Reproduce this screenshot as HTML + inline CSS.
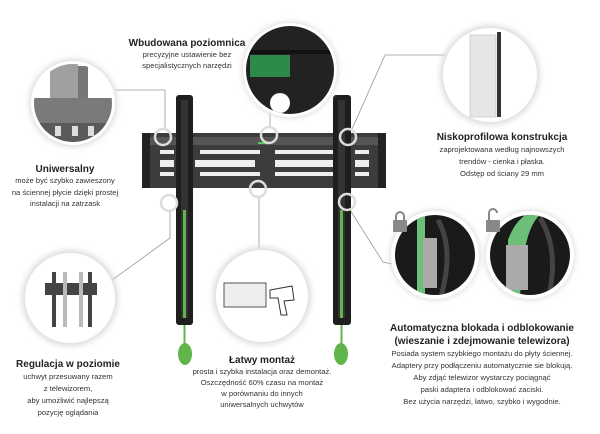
<!DOCTYPE html>
<html><head><meta charset="utf-8"><style>
body{margin:0;background:#fff;}
svg{display:block}
text{font-family:"Liberation Sans",sans-serif;fill:#222;text-anchor:middle}
.b{font-weight:bold;font-size:10px}
.s{font-size:7.6px;fill:#333}
</style></head><body>
<svg width="600" height="434" viewBox="0 0 600 434" xmlns="http://www.w3.org/2000/svg">
<defs>
<filter id="sh" x="-30%" y="-30%" width="160%" height="160%"><feGaussianBlur stdDeviation="3"/></filter>
<clipPath id="c1"><circle cx="73" cy="103" r="39"/></clipPath>
<clipPath id="c2"><circle cx="290" cy="70" r="44"/></clipPath>
<clipPath id="c3"><circle cx="435" cy="255" r="40"/></clipPath>
<clipPath id="c4"><circle cx="530" cy="255" r="40"/></clipPath>
</defs>
<!-- connectors -->
<g stroke="#999" stroke-width="0.8" fill="none">
<polyline points="115,90 165,90 165,129"/>
<line x1="270" y1="108" x2="270" y2="127"/>
<polyline points="445,55 385,55 352,129"/>
<polyline points="108,283 170,238 170,211"/>
<line x1="259" y1="197" x2="259" y2="250"/>
<polyline points="350,210 383,262 392,264"/>
</g>
<!-- bracket plate -->
<rect x="142" y="133" width="244" height="55" fill="#3c3c3c"/>
<rect x="142" y="133" width="8" height="55" fill="#222"/>
<rect x="378" y="133" width="8" height="55" fill="#222"/>
<rect x="150" y="137" width="228" height="8" fill="#555"/>
<g fill="#eee">
<rect x="160" y="150" width="14" height="4"/><rect x="200" y="150" width="60" height="4"/><rect x="275" y="150" width="60" height="4"/><rect x="355" y="150" width="14" height="4"/>
<rect x="160" y="160" width="14" height="7"/><rect x="195" y="160" width="60" height="7"/><rect x="275" y="160" width="60" height="7"/><rect x="355" y="160" width="14" height="7"/>
<rect x="160" y="172" width="14" height="4"/><rect x="200" y="172" width="60" height="4"/><rect x="275" y="172" width="60" height="4"/><rect x="355" y="172" width="14" height="4"/>
</g>
<rect x="258" y="142" width="10" height="2" fill="#5c5"/>
<!-- vertical bars -->
<rect x="176" y="95" width="17" height="230" rx="3" fill="#1e1e1e"/>
<rect x="181" y="100" width="7" height="218" fill="#333"/>
<rect x="183" y="210" width="3" height="108" fill="#5fb54a"/>
<rect x="333" y="95" width="18" height="230" rx="3" fill="#1e1e1e"/>
<rect x="338" y="100" width="7" height="218" fill="#333"/>
<rect x="340" y="210" width="3" height="108" fill="#5fb54a"/>
<line x1="184.5" y1="325" x2="184.5" y2="345" stroke="#5fb54a" stroke-width="2"/>
<line x1="341.5" y1="325" x2="341.5" y2="345" stroke="#5fb54a" stroke-width="2"/>
<ellipse cx="185" cy="354" rx="7" ry="11" fill="#5fb54a"/>
<ellipse cx="341" cy="354" rx="7" ry="11" fill="#5fb54a"/>
<!-- rings -->
<g fill="none" stroke="#ddd" stroke-width="2.5">
<circle cx="163" cy="137" r="8"/><circle cx="269" cy="135" r="8"/><circle cx="348" cy="137" r="8"/>
<circle cx="169" cy="203" r="8"/><circle cx="258" cy="189" r="8"/><circle cx="347" cy="202" r="8"/>
</g>
<!-- photo circles shadows -->
<g fill="#ddd" filter="url(#sh)">
<circle cx="73" cy="103" r="44"/><circle cx="290" cy="70" r="48"/><circle cx="490" cy="75" r="50"/>
<circle cx="70" cy="298" r="48"/><circle cx="262" cy="296" r="49"/>
<circle cx="435" cy="255" r="45"/><circle cx="530" cy="255" r="45"/>
</g>
<circle cx="73" cy="103" r="42" fill="#fff"/>
<g clip-path="url(#c1)">
<rect x="50" y="62" width="28" height="40" fill="#a0a0a0"/>
<rect x="78" y="66" width="10" height="36" fill="#777"/>
<rect x="30" y="98" width="90" height="25" fill="#7a7a7a"/>
<rect x="30" y="123" width="90" height="25" fill="#5a5a5a"/>
<g fill="#ddd"><rect x="55" y="126" width="6" height="10"/><rect x="72" y="126" width="6" height="10"/><rect x="88" y="126" width="6" height="10"/></g>
</g>
<circle cx="290" cy="70" r="47" fill="#fff"/>
<g clip-path="url(#c2)">
<rect x="240" y="20" width="100" height="100" fill="#222"/>
<rect x="250" y="55" width="40" height="22" fill="#2c8a4a"/>
<rect x="240" y="50" width="100" height="4" fill="#111"/>
<circle cx="280" cy="103" r="10" fill="#fff"/>
</g>
<circle cx="490" cy="75" r="47" fill="#fff"/>
<rect x="470" y="35" width="26" height="82" fill="#e6e6e6" stroke="#bbb" stroke-width="0.6"/>
<rect x="497" y="32" width="4" height="85" fill="#333"/>
<circle cx="70" cy="298" r="45" fill="#fff"/>
<rect x="45" y="283" width="52" height="12" fill="#444"/>
<g fill="#444"><rect x="52" y="272" width="4" height="55"/><rect x="88" y="272" width="4" height="55"/></g>
<g fill="#bbb"><rect x="63" y="272" width="4" height="55"/><rect x="79" y="272" width="4" height="55"/></g>
<circle cx="262" cy="296" r="46" fill="#fff"/>
<rect x="224" y="283" width="42" height="24" fill="#eee" stroke="#555" stroke-width="1"/>
<path d="M270,290 L292,286 L294,300 L284,301 L287,315 L281,315 L278,298 L270,298 Z" fill="#fff" stroke="#333" stroke-width="1"/>
<circle cx="435" cy="255" r="44" fill="#fff"/>
<g clip-path="url(#c3)">
<rect x="390" y="210" width="90" height="90" fill="#1a1a1a"/>
<rect x="417" y="215" width="8" height="85" fill="#6cbf78"/>
<rect x="423" y="238" width="14" height="50" fill="#aaa"/>
<path d="M438,220 Q455,250 440,300" stroke="#444" stroke-width="5" fill="none"/>
</g>
<circle cx="530" cy="255" r="44" fill="#fff"/>
<g clip-path="url(#c4)">
<rect x="485" y="210" width="90" height="90" fill="#1a1a1a"/>
<path d="M508,300 L508,240 Q515,220 530,212 L540,215 Q522,230 520,300 Z" fill="#6cbf78"/>
<rect x="506" y="245" width="22" height="45" fill="#aaa"/>
<path d="M540,218 Q560,250 548,300" stroke="#444" stroke-width="5" fill="none"/>
</g>
<g fill="#888">
<rect x="393" y="220" width="14" height="12" rx="1"/><path d="M396,220 v-4 a4,4 0 0 1 8,0 v4" fill="none" stroke="#888" stroke-width="2"/>
<rect x="486" y="220" width="14" height="12" rx="1"/><path d="M489,220 v-7 a4,4 0 0 1 8,0" fill="none" stroke="#888" stroke-width="2"/>
</g>
<!-- texts -->
<text class="b" x="187" y="46">Wbudowana poziomnica</text>
<text class="s" x="187" y="57">precyzyjne ustawienie bez</text>
<text class="s" x="187" y="68">specjalistycznych narzędzi</text>
<text class="b" x="65" y="172">Uniwersalny</text>
<text class="s" x="65" y="183">może być szybko zawieszony</text>
<text class="s" x="65" y="195">na ściennej płycie dzięki prostej</text>
<text class="s" x="65" y="206">instalacji na zatrzask</text>
<text class="b" x="502" y="140">Niskoprofilowa konstrukcja</text>
<text class="s" x="502" y="152">zaprojektowana według najnowszych</text>
<text class="s" x="502" y="164">trendów - cienka i płaska.</text>
<text class="s" x="502" y="176">Odstęp od ściany 29 mm</text>
<text class="b" x="68" y="367">Regulacja w poziomie</text>
<text class="s" x="68" y="379">uchwyt przesuwany razem</text>
<text class="s" x="68" y="391">z telewizorem,</text>
<text class="s" x="68" y="403">aby umożliwić najlepszą</text>
<text class="s" x="68" y="415">pozycję oglądania</text>
<text class="b" x="262" y="363">Łatwy montaż</text>
<text class="s" x="262" y="374">prosta i szybka instalacja oraz demontaż.</text>
<text class="s" x="262" y="385">Oszczędność 60% czasu na montaż</text>
<text class="s" x="262" y="396">w porównaniu do innych</text>
<text class="s" x="262" y="407">uniwersalnych uchwytów</text>
<text class="b" x="482" y="331">Automatyczna blokada i odblokowanie</text>
<text class="b" x="482" y="344">(wieszanie i zdejmowanie telewizora)</text>
<text class="s" x="482" y="356">Posiada system szybkiego montażu do płyty ściennej.</text>
<text class="s" x="482" y="368">Adaptery przy podłączeniu automatycznie sie blokują.</text>
<text class="s" x="482" y="380">Aby zdjąć telewizor wystarczy pociągnąć</text>
<text class="s" x="482" y="392">paski adaptera i odblokować zaciski.</text>
<text class="s" x="482" y="404">Bez użycia narzędzi, łatwo, szybko i wygodnie.</text>
</svg>
</body></html>
